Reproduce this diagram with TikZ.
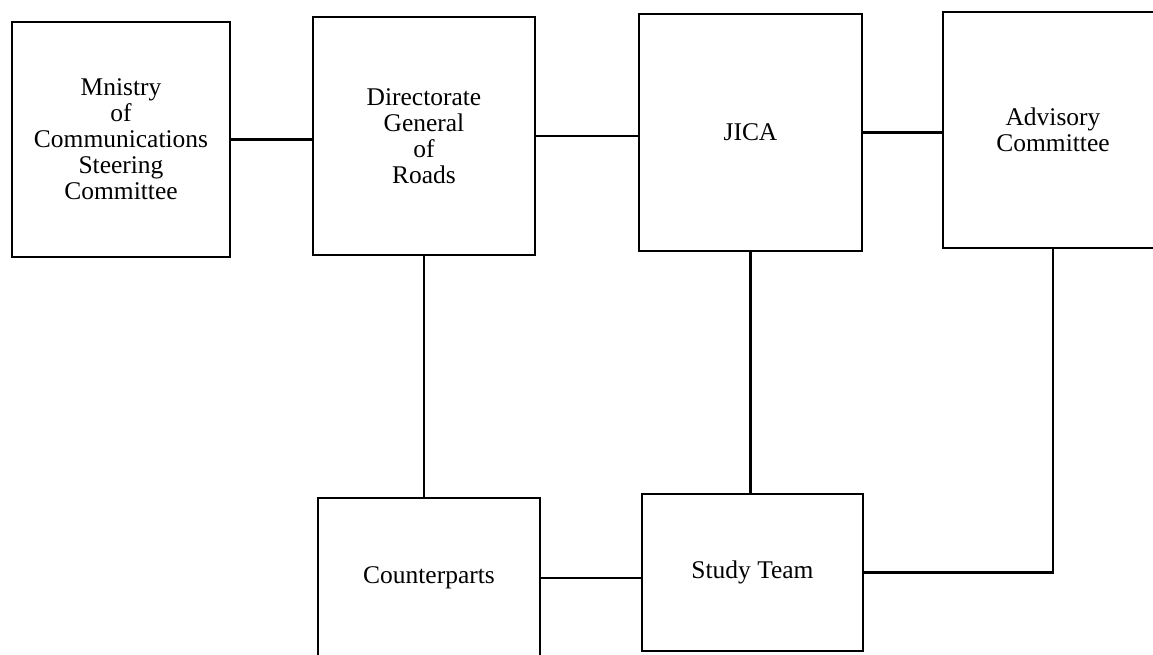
\documentclass[tikz,border=0pt]{standalone}
\usepackage{fontspec}
\setmainfont{Liberation Serif}
\usepackage{tikz}

\begin{document}
\begin{tikzpicture}[x=0.02cm, y=-0.02cm,
        orgbox/.style={draw, line width=1.6pt, align=center, inner sep=0pt,
            font=\fontsize{14.5}{14.8}\selectfont},
        link/.style={line width=1.2pt},
        drop/.style={line width=1.6pt}]
            % Page frame
            \useasboundingbox (0,0) rectangle (1153,654);
            \clip (0,0) rectangle (1153,654);

            % Top row
            \node (mnistry) at (121,139.5) [orgbox, minimum width=4.36cm, minimum height=4.70cm]
                {Mnistry\\of\\Communications\\Steering\\Committee};
            \node (dgr) at (424,136) [orgbox, minimum width=4.44cm, minimum height=4.76cm]
                {Directorate\\General\\of\\Roads};
            \node (jica) at (750.5,132.5) [orgbox, minimum width=4.46cm, minimum height=4.74cm] {JICA};
            \node (advisory) at (1053,130) [orgbox, minimum width=4.40cm, minimum height=4.72cm]
                {Advisory\\Committee};

            % Bottom row
            \node (counterparts) at (429,578) [orgbox, minimum width=4.44cm, minimum height=3.20cm] {Counterparts};
            \node (team) at (752.5,572.5) [orgbox, minimum width=4.42cm, minimum height=3.14cm] {Study Team};

            % Horizontal links
            \draw [link] (mnistry.east) -- (mnistry.east -| dgr.west);
            \draw [link] (dgr.east) -- (dgr.east -| jica.west);
            \draw [link] (jica.east) -- (jica.east -| advisory.west);
            \draw [link] (counterparts.east) -- (counterparts.east -| team.west);

            % Vertical links
            \draw [drop] (dgr.south) -- (dgr.south |- counterparts.north);
            \draw [drop] (jica.south) -- (jica.south |- team.north);
            \draw [drop] (advisory.south) |- (team.east);
        \end{tikzpicture}
\end{document}
